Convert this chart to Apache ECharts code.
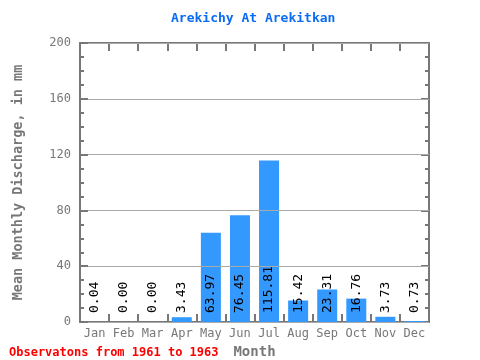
<!DOCTYPE html>
<html><head><meta charset="utf-8">
<script src="https://cdn.jsdelivr.net/npm/echarts@6/dist/echarts.min.js"></script>
<style>html,body{margin:0;padding:0;background:#fff}#c{width:480px;height:360px}</style>
</head><body><div id="c"></div>
<script>
const months = ['Jan','Feb','Mar','Apr','May','Jun','Jul','Aug','Sep','Oct','Nov','Dec'];
const discharge = [0.04,0.00,0.00,3.43,63.97,76.45,115.81,15.42,23.31,16.76,3.73,0.73];
const yTicks = [0,40,80,120,160,200];
const titleText = 'Arekichy At Arekitkan';
const yName = 'Mean Monthly Discharge, in mm';
const xName = 'Month';
const footer = 'Observatons from 1961 to 1963';

const mono = 'DejaVu Sans Mono';
const axisGray = '#777';
const chart = echarts.init(document.getElementById('c'));
const axLine = {show:true, onZero:false, lineStyle:{color:axisGray, width:2}};
const xTick = {show:true, inside:true, length:8, interval:0, lineStyle:{color:axisGray, width:2}};
chart.setOption({
  animation:false,
  title:[{text:titleText, left:166, top:7, textStyle:{color:'#0a6cf5', fontFamily:mono, fontWeight:'bold', fontSize:13}},
         {text:footer, left:4, top:342, textStyle:{color:'#ff0000', fontFamily:mono, fontWeight:'bold', fontSize:12}}],
  grid:{left:80, right:51, top:43, bottom:38, outerBoundsMode:'none', containLabel:false},
  xAxis:[{type:'category', data:months, position:'bottom', boundaryGap:true,
          name:xName, nameLocation:'middle', nameGap:17,
          nameTextStyle:{color:axisGray, fontFamily:mono, fontWeight:'bold', fontSize:14, verticalAlign:'top'},
          axisLine:axLine, axisTick:xTick,
          axisLabel:{color:axisGray, fontFamily:mono, fontSize:12, margin:6, interval:0}},
         {type:'category', data:months, position:'top', boundaryGap:true,
          axisLine:axLine, axisTick:xTick,
          axisLabel:{show:false}}],
  yAxis:[{type:'value', min:yTicks[0], max:yTicks[yTicks.length-1], interval:40, position:'left', z:5,
          name:yName, nameLocation:'middle', nameGap:55,
          nameTextStyle:{color:axisGray, fontFamily:mono, fontWeight:'bold', fontSize:13.5},
          axisLine:axLine,
          axisTick:{show:true, inside:true, length:8, lineStyle:{color:axisGray, width:2}},
          minorTick:{show:true, splitNumber:4, length:4, lineStyle:{color:axisGray, width:2}},
          splitLine:{show:true, lineStyle:{color:'#aaa', width:1}},
          axisLabel:{color:axisGray, fontFamily:mono, fontSize:12, margin:9}},
         {type:'value', min:yTicks[0], max:yTicks[yTicks.length-1], interval:40, position:'right',
          axisLine:axLine,
          axisTick:{show:true, inside:true, length:8, lineStyle:{color:axisGray, width:2}},
          minorTick:{show:true, splitNumber:4, length:4, lineStyle:{color:axisGray, width:2}},
          splitLine:{show:false}, axisLabel:{show:false}}],
  series:[{type:'bar', data:discharge, barWidth:20, itemStyle:{color:'#3399ff'},
           label:{show:true, position:'insideBottom', distance:9, rotate:90, align:'left', verticalAlign:'middle',
                  color:'#000', fontFamily:mono, fontSize:13,
                  formatter:p=>p.value.toFixed(2)}}]
});
</script></body></html>
